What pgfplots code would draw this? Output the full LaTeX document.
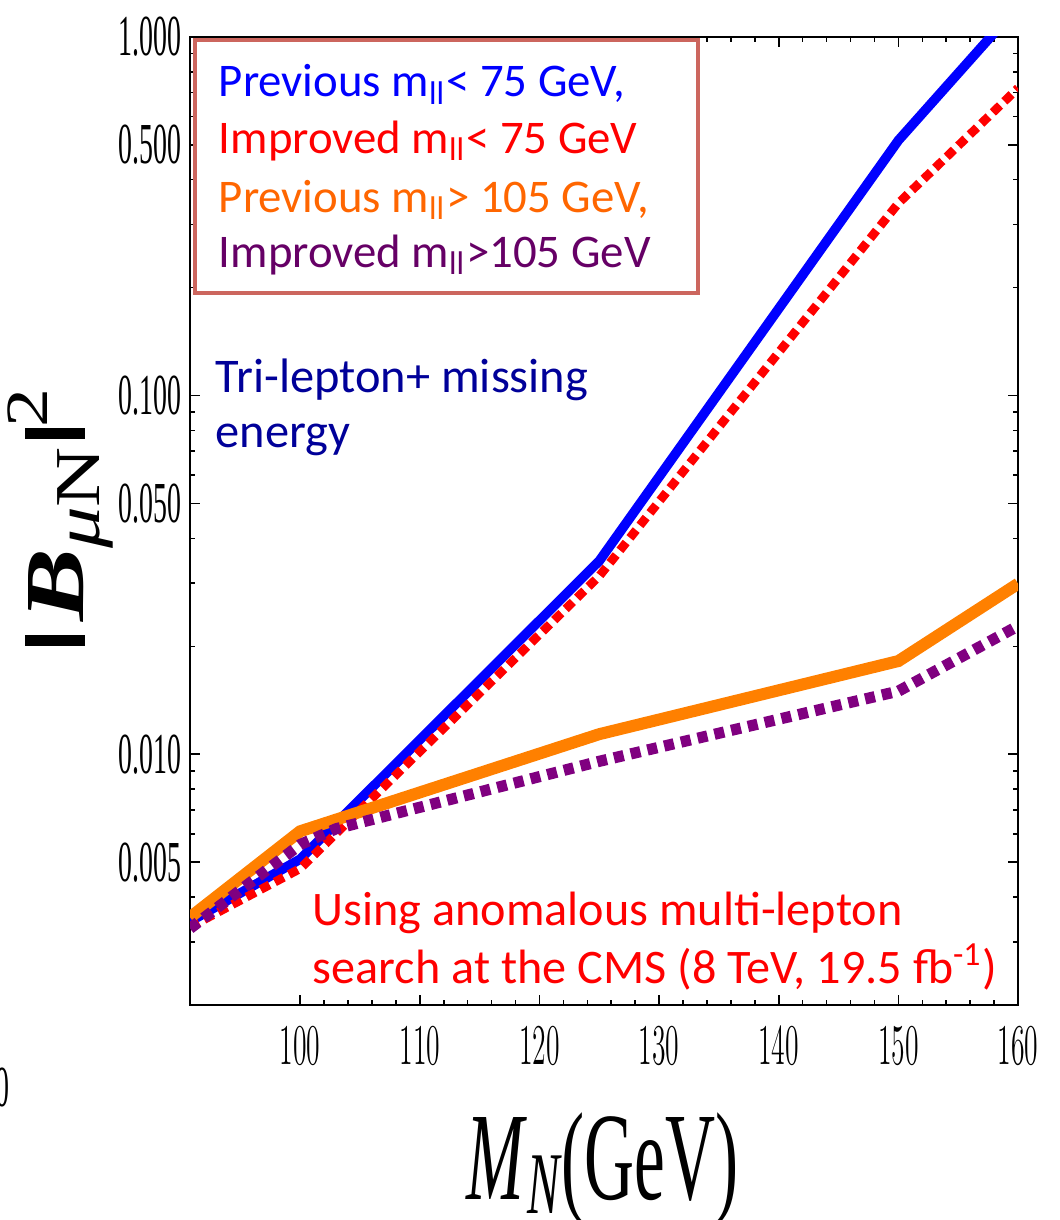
\documentclass[border=0pt]{standalone}
\usepackage{fontspec}
\setmainfont{Liberation Serif}
\newfontfamily\calib{Carlito}
\usepackage{graphicx}
\usepackage{pgfplots}
\pgfplotsset{compat=1.18}

\definecolor{lblue}{RGB}{0,0,255}
\definecolor{lred}{RGB}{255,0,0}
\definecolor{lorange}{RGB}{255,128,0}
\definecolor{torange}{RGB}{255,102,0}
\definecolor{lpurple}{RGB}{128,0,128}
\definecolor{tpurple}{RGB}{102,0,102}
\definecolor{tnavy}{RGB}{0,0,153}
\definecolor{boxred}{RGB}{204,102,94}

% narrow tick numbers, like the stretched original
\newcommand{\nr}[1]{\scalebox{0.48}[1]{#1}}

\begin{document}
\begin{tikzpicture}
\begin{axis}[
  scale only axis, width=207pt, height=242pt,
  ymode=log,
  xmin=90.8, xmax=160, ymin=0.002, ymax=1,
  xtick={100,110,...,160}, minor x tick num=4,
  xticklabel={\nr{\pgfmathprintnumber{\tick}}},
  ytick={0.005,0.01,0.05,0.1,0.5,1},
  yticklabels={\nr{0.005},\nr{0.010},\nr{0.050},\nr{0.100},\nr{0.500},\nr{1.000}},
  minor ytick={0.002,0.003,0.004,0.006,0.007,0.008,0.009,0.02,0.03,0.04,0.06,0.07,0.08,0.09,0.2,0.3,0.4,0.6,0.7,0.8,0.9},
  tick align=inside, major tick length=2.5pt, minor tick length=1.25pt,
  tick style={black, line width=0.4pt},
  ticklabel style={font=\fontsize{14.5}{14.5}\selectfont},
  xticklabel style={yshift=-2pt},
  yticklabel style={inner sep=0pt, xshift=-2pt},
  axis line style={line width=0.5pt},
  clip mode=individual,
]
\addplot[lblue, line width=2.4pt] coordinates {
  (90.8,0.00342) (100,0.0051) (125,0.0346) (150,0.515) (160,1.22)};
\addplot[lred, line width=2.2pt, dash pattern=on 2.5pt off 1.5pt] coordinates {
  (90.8,0.0033) (100,0.0048) (125,0.0314) (150,0.344) (160,0.72)};
\addplot[lorange, line width=3pt] coordinates {
  (90.8,0.00351) (100,0.0061) (125,0.01138) (150,0.0182) (160,0.0299)};
\addplot[lpurple, line width=2.8pt, dash pattern=on 2.5pt off 1.8pt] coordinates {
  (90.8,0.00327) (100,0.0056) (103,0.0062) (125,0.00956) (150,0.0150) (160,0.0228)};

% legend box
\draw[boxred, fill=white, line width=1pt] (rel axis cs:0.006,0.7355) rectangle (rel axis cs:0.6135,0.9969);
\begin{scope}[every node/.style={anchor=base west, inner sep=0pt, font=\calib\fontsize{11.7}{11.7}\selectfont}]
\node[lblue] at (rel axis cs:0.0338,0.938) {Previous m\textsubscript{ll}< 75 GeV,};
\node[lred] at (rel axis cs:0.0338,0.880) {Improved m\textsubscript{ll}< 75 GeV};
\node[torange] at (rel axis cs:0.0338,0.819) {Previous m\textsubscript{ll}> 105 GeV,};
\node[tpurple] at (rel axis cs:0.0338,0.762) {Improved m\textsubscript{ll}>105 GeV};
\node[tnavy, font=\calib\fontsize{12.1}{12.1}\selectfont] at (rel axis cs:0.0302,0.633) {Tri-lepton+ missing};
\node[tnavy, font=\calib\fontsize{12.1}{12.1}\selectfont] at (rel axis cs:0.0302,0.5764) {energy};
\node[lred, font=\calib\fontsize{12.05}{12.05}\selectfont] at (rel axis cs:0.1473,0.0826) {Using anomalous multi-lepton};
\node[lred, font=\calib\fontsize{12.05}{12.05}\selectfont] at (rel axis cs:0.1473,0.0227) {search at the CMS (8 TeV, 19.5 fb\textsuperscript{-1})};
\end{scope}

% axis titles
\node[rotate=90, anchor=center, inner sep=0pt] at (rel axis cs:-0.157,0.5036)
  {\scalebox{1.3}[1]{\fontsize{21}{21}\selectfont\rule[-0.4pt]{2.2pt}{15pt}\kern2.5pt\textbf{\textit{B}}\raisebox{-4pt}{\fontsize{16}{16}\selectfont\textit{μ}N}\kern1.5pt\rule[-0.4pt]{2.2pt}{15pt}\raisebox{9pt}{\fontsize{15}{15}\selectfont 2}}};
\node[anchor=base, inner sep=0pt] at (rel axis cs:0.498,-0.2014)
  {\scalebox{0.553}[1]{\fontsize{31.3}{31.3}\selectfont\textit{M}\raisebox{-3.5pt}{\fontsize{22}{22}\selectfont\textit{N}}(GeV)}};
\node[anchor=east, inner sep=0pt, font=\fontsize{14.5}{14.5}\selectfont] at (rel axis cs:-0.2174,-0.0847) {\nr{0}};

\coordinate (bbA) at (rel axis cs:-0.2295,-0.2221);
\coordinate (bbB) at (rel axis cs:1.0495,1.0382);
\end{axis}
\pgfresetboundingbox
\path (bbA) rectangle (bbB);
\end{tikzpicture}
\end{document}
